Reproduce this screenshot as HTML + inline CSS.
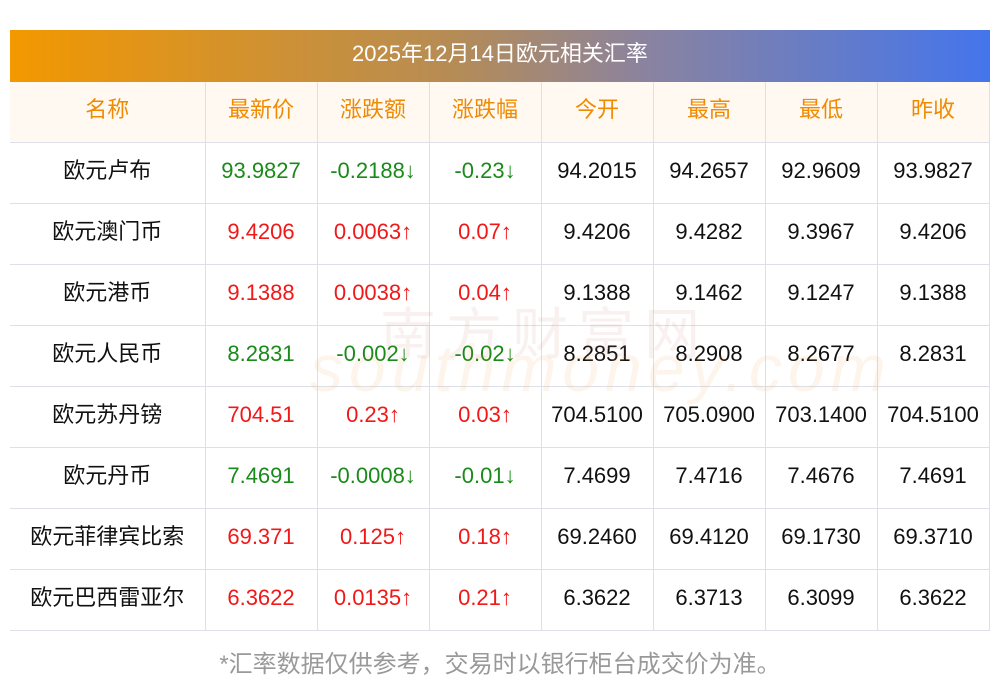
<!DOCTYPE html>
<html><head><meta charset="utf-8"><style>
body{margin:0;width:1000px;height:697px;background:#fff;position:relative;overflow:hidden;font-family:"Liberation Sans","Noto Sans CJK SC",sans-serif}
.title{position:absolute;left:10px;top:30px;width:980px;height:52px;background:linear-gradient(90deg,#f39800,#b68c55 45%,#8a83a0 65%,#4475ec);color:#fff;font-size:22px;line-height:48px;text-align:center}
table{position:absolute;left:10px;top:82px;width:979px;border-collapse:collapse;table-layout:fixed}
td{height:56px;border-bottom:1px solid #dde0e8;border-left:1px solid #dde0e8;text-align:center;font-size:22px;line-height:24px;color:#111;padding:0 0 4px 0;vertical-align:middle;white-space:nowrap;box-sizing:content-box}
td:first-child{border-left:none}
tr:first-child td{background:#fff9f2;color:#f08a00}
tr td:last-child{border-right:1px solid #dde0e8}
.g{color:#1a8a1a}.r{color:#f01818}
.wm{position:absolute;left:310px;top:330px;font-size:66px;color:rgba(240,150,60,0.10);font-style:italic;letter-spacing:6px}
.wm2{position:absolute;left:380px;top:290px;font-size:56px;color:rgba(200,120,100,0.10);letter-spacing:10px}
.foot{position:absolute;left:0;width:1000px;top:650px;text-align:center;color:#999;font-size:24px;line-height:30px}
</style></head><body>
<div class="title">2025年12月14日欧元相关汇率</div>
<table>
<colgroup><col style="width:195px"><col style="width:112px"><col style="width:112px"><col style="width:112px"><col style="width:112px"><col style="width:112px"><col style="width:112px"><col style="width:112px"></colgroup>
<tr><td>名称</td><td>最新价</td><td>涨跌额</td><td>涨跌幅</td><td>今开</td><td>最高</td><td>最低</td><td>昨收</td></tr>
<tr><td>欧元卢布</td><td class="g">93.9827</td><td class="g">-0.2188↓</td><td class="g">-0.23↓</td><td>94.2015</td><td>94.2657</td><td>92.9609</td><td>93.9827</td></tr>
<tr><td>欧元澳门币</td><td class="r">9.4206</td><td class="r">0.0063↑</td><td class="r">0.07↑</td><td>9.4206</td><td>9.4282</td><td>9.3967</td><td>9.4206</td></tr>
<tr><td>欧元港币</td><td class="r">9.1388</td><td class="r">0.0038↑</td><td class="r">0.04↑</td><td>9.1388</td><td>9.1462</td><td>9.1247</td><td>9.1388</td></tr>
<tr><td>欧元人民币</td><td class="g">8.2831</td><td class="g">-0.002↓</td><td class="g">-0.02↓</td><td>8.2851</td><td>8.2908</td><td>8.2677</td><td>8.2831</td></tr>
<tr><td>欧元苏丹镑</td><td class="r">704.51</td><td class="r">0.23↑</td><td class="r">0.03↑</td><td>704.5100</td><td>705.0900</td><td>703.1400</td><td>704.5100</td></tr>
<tr><td>欧元丹币</td><td class="g">7.4691</td><td class="g">-0.0008↓</td><td class="g">-0.01↓</td><td>7.4699</td><td>7.4716</td><td>7.4676</td><td>7.4691</td></tr>
<tr><td>欧元菲律宾比索</td><td class="r">69.371</td><td class="r">0.125↑</td><td class="r">0.18↑</td><td>69.2460</td><td>69.4120</td><td>69.1730</td><td>69.3710</td></tr>
<tr><td>欧元巴西雷亚尔</td><td class="r">6.3622</td><td class="r">0.0135↑</td><td class="r">0.21↑</td><td>6.3622</td><td>6.3713</td><td>6.3099</td><td>6.3622</td></tr>
</table>
<div class="wm2">南方财富网</div>
<div class="wm">southmoney.com</div>
<div class="foot">*汇率数据仅供参考，交易时以银行柜台成交价为准。</div>
</body></html>
